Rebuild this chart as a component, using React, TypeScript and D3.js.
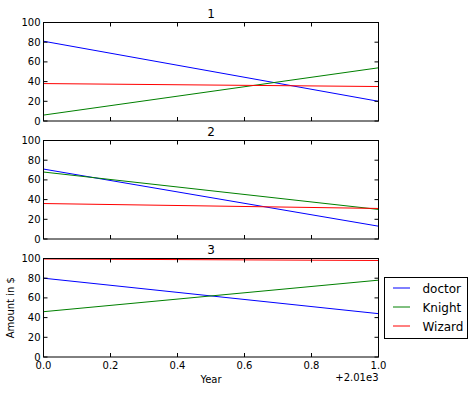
import React from "react";
import * as d3 from "d3";

// years on the x axis (shown as offset from 2010)
const years = [2010, 2011];
const series = ["doctor", "Knight", "Wizard"];
const colors = ["#0000ff", "#008000", "#ff0000"];
const panelTitles = ["1", "2", "3"];

// values per panel, one array per series
const panel1 = [
  [81, 20],
  [6, 54],
  [38, 35],
];
const panel2 = [
  [71, 13],
  [68, 30],
  [36, 31],
];
const panel3 = [
  [80, 44],
  [46, 78],
  [99.5, 98],
];
const panels = [panel1, panel2, panel3];

const yTicks = [0, 20, 40, 60, 80, 100];
const xTicks = [0, 0.2, 0.4, 0.6, 0.8, 1.0];

const width = 474;
const height = 393;
const left = 43.5;
const right = 378.5;
const panelTops = [22.5, 140.5, 258.5];
const panelH = 98.5;
const font = "DejaVu Sans, sans-serif";

const App = () => {
  const x = d3.scaleLinear().domain([years[0], years[1]]).range([left, right]);
  const offset = years[0];

  return (
    <svg
      width={width}
      height={height}
      style={{ position: "absolute", left: 0, top: 0, background: "#fff" }}
      fontFamily={font}
    >
      {panels.map((panel, pi) => {
        const top = panelTops[pi];
        const y = d3.scaleLinear().domain([0, 100]).range([top + panelH, top]);
        const line = d3
          .line<number>()
          .x((_, i) => x(years[i]))
          .y((d) => y(d));
        const isLast = pi === panels.length - 1;
        return (
          <g key={pi}>
            <text x={(left + right) / 2} y={top - 5} textAnchor="middle" fontSize={12}>
              {panelTitles[pi]}
            </text>
            {panel.map((vals, si) => (
              <path key={si} d={line(vals) || ""} fill="none" stroke={colors[si]} strokeWidth={1} />
            ))}
            {yTicks.map((t) => (
              <g key={"y" + t}>
                <line x1={left} x2={left + 4} y1={y(t)} y2={y(t)} stroke="#000" />
                <line x1={right} x2={right - 4} y1={y(t)} y2={y(t)} stroke="#000" />
                <text x={left - 3} y={y(t) + 3.5} textAnchor="end" fontSize={10}>
                  {t}
                </text>
              </g>
            ))}
            {xTicks.map((t) => (
              <g key={"x" + t}>
                <line x1={x(offset + t)} x2={x(offset + t)} y1={top} y2={top + 4} stroke="#000" />
                <line
                  x1={x(offset + t)}
                  x2={x(offset + t)}
                  y1={top + panelH}
                  y2={top + panelH - 4}
                  stroke="#000"
                />
                {isLast && (
                  <text x={x(offset + t)} y={top + panelH + 11.5} textAnchor="middle" fontSize={10}>
                    {d3.format(".1f")(t)}
                  </text>
                )}
              </g>
            ))}
            <rect x={left} y={top} width={right - left} height={panelH} fill="none" stroke="#000" />
          </g>
        );
      })}

      <text x={right} y={381} textAnchor="end" fontSize={10}>
        +2.01e3
      </text>
      <text x={(left + right) / 2} y={383} textAnchor="middle" fontSize={10}>
        Year
      </text>
      <text
        transform={`translate(14,${panelTops[2] + panelH / 2}) rotate(-90)`}
        textAnchor="middle"
        fontSize={10}
      >
        Amount in $
      </text>

      <g>
        <rect x={384.5} y={277.5} width={83} height={61} fill="#fff" stroke="#000" />
        {series.map((s, i) => (
          <g key={s}>
            <line x1={393} x2={410} y1={288 + i * 19} y2={288 + i * 19} stroke={colors[i]} />
            <text x={422.5} y={288 + i * 19 + 4.5} fontSize={12}>
              {s}
            </text>
          </g>
        ))}
      </g>
    </svg>
  );
};

export default App;
